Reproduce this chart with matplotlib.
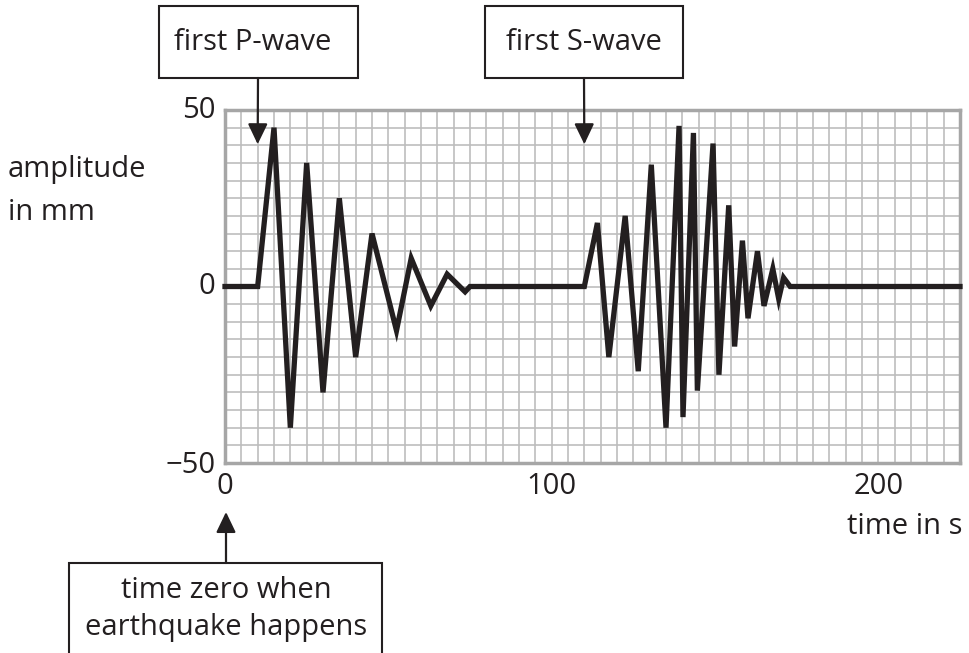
import matplotlib
matplotlib.use("Agg")
import matplotlib.pyplot as plt
from matplotlib.patches import Rectangle
from matplotlib.ticker import MultipleLocator

plt.rcParams['font.family'] = ['Open Sans', 'DejaVu Sans']

# seismogram trace (time s, amplitude mm)
p_time = [0, 10, 15, 20, 25, 30, 35, 40, 45, 52.5, 57, 63, 68, 73.5, 75]
p_amp = [0, 0, 45, -40, 35, -30, 25, -20, 15, -12.5, 8, -5.5, 3.5, -1.5, 0]
s_time = [110, 114, 117.5, 122.5, 126.5, 130.5, 135, 139, 140.2, 143.4, 144.6,
          149.4, 151.2, 154.2, 156, 158.4, 160.1, 163, 165, 167.7, 169.5, 171, 173, 225]
s_amp = [0, 18, -20, 20, -24, 34.5, -40, 45.5, -37, 43.5, -29.5,
         40.5, -25, 23, -17, 13, -9, 10, -5.5, 5, -3.5, 2.5, 0, 0]

time = p_time + s_time
amp = p_amp + s_amp

ink = '#231f20'
W, H = 969, 653
fig = plt.figure(figsize=(W / 100, H / 100), dpi=100)
ax = fig.add_axes([225 / W, (H - 463) / H, (960 - 225) / W, (463 - 110) / H])

ax.set_xlim(0, 225)
ax.set_ylim(-50, 50)
ax.xaxis.set_major_locator(MultipleLocator(50))
ax.xaxis.set_minor_locator(MultipleLocator(5))
ax.yaxis.set_major_locator(MultipleLocator(25))
ax.yaxis.set_minor_locator(MultipleLocator(5))
ax.grid(which='minor', color='#bdbdbd', lw=1.2)
ax.grid(which='major', color='#a6a6a6', lw=2.2)
ax.set_axisbelow(True)
for sp in ax.spines.values():
    sp.set_color('#a6a6a6')
    sp.set_linewidth(2.5)
ax.tick_params(which='both', length=0)
ax.set_xticks([])
ax.set_yticks([])

ax.plot(time, amp, color=ink, lw=3.8, solid_joinstyle='miter', clip_on=False, zorder=3)

fs = 21
# axis numbers
for v, lab in [(50, '50'), (0, '0'), (-50, '\u221250')]:
    ax.text(-3, v - (0.8 if v == -50 else 0), lab, ha='right', va='center', fontsize=fs, color=ink)
for v in [0, 100, 200]:
    ax.text(v, -52.5, str(v), ha='center', va='top', fontsize=fs, color=ink)
fig.text(962 / W, 1 - 527 / H, 'time in s', ha='right', va='center', fontsize=fs, color=ink)
fig.text(8 / W, 1 - 170 / H, 'amplitude', ha='left', va='center', fontsize=fs, color=ink)
fig.text(8 / W, 1 - 213 / H, 'in mm', ha='left', va='center', fontsize=fs, color=ink)

# label boxes (figure pixels, top-left origin)
boxes = [(159, 6, 358, 78), (485, 6, 683, 78), (69, 563, 382, 670)]
for x0, y0, x1, y1 in boxes:
    fig.patches.append(Rectangle((x0 / W, 1 - y1 / H), (x1 - x0) / W, (y1 - y0) / H,
                                 transform=fig.transFigure, fill=False, ec=ink, lw=1.5))
fig.text(253 / W, 1 - 42 / H, 'first P-wave', ha='center', va='center', fontsize=fs, color=ink)
fig.text(584 / W, 1 - 42 / H, 'first S-wave', ha='center', va='center', fontsize=fs, color=ink)
fig.text(226 / W, 1 - 590 / H, 'time zero when', ha='center', va='center', fontsize=fs, color=ink)
fig.text(226 / W, 1 - 627 / H, 'earthquake happens', ha='center', va='center', fontsize=fs, color=ink)

arrow = dict(arrowstyle='-|>,head_length=1.25,head_width=0.6', color=ink, lw=1.6,
             shrinkA=0, shrinkB=0)
ax.annotate('', xy=(10, 40.3), xytext=(258, H - 78), textcoords='figure pixels',
            arrowprops=arrow, annotation_clip=False)
ax.annotate('', xy=(110, 40.3), xytext=(584, H - 78), textcoords='figure pixels',
            arrowprops=arrow, annotation_clip=False)
ax.annotate('', xy=(226, H - 512), xycoords='figure pixels', xytext=(226, H - 563),
            textcoords='figure pixels', arrowprops=arrow, annotation_clip=False)

fig.savefig('out.png', dpi=100)
